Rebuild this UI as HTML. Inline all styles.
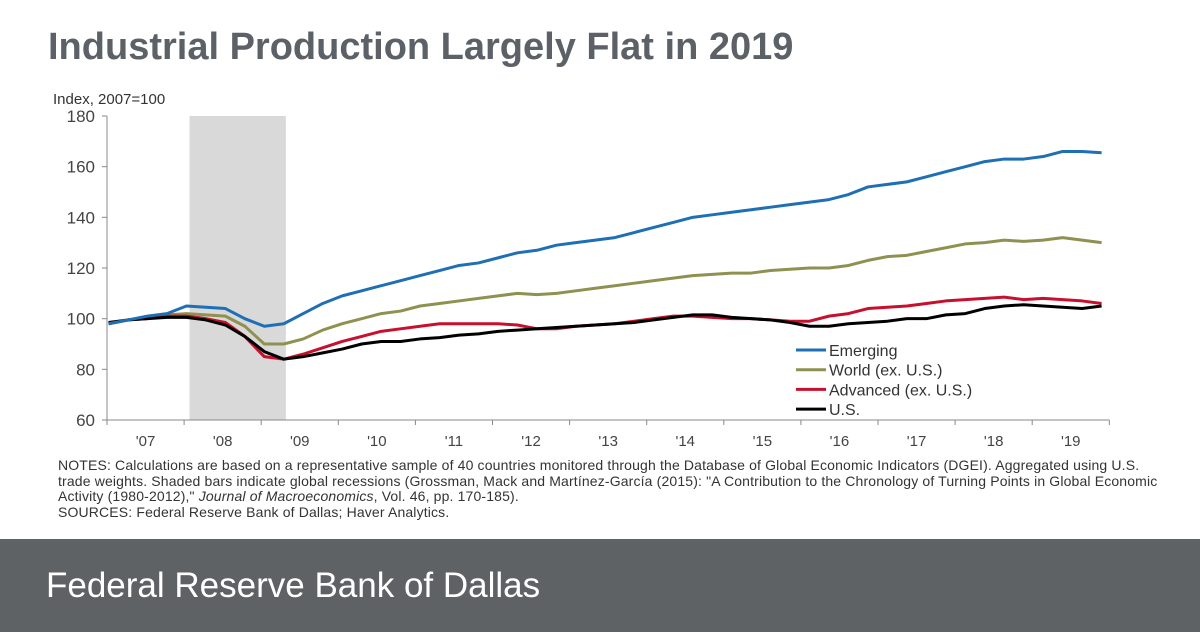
<!DOCTYPE html>
<html><head><meta charset="utf-8"><style>
body{margin:0;width:1200px;height:632px;background:#fff;position:relative;overflow:hidden;font-family:"Liberation Sans",Arial,sans-serif}
#title{position:absolute;left:48px;top:26px;font-size:38px;font-weight:bold;color:#5b6167;margin:0}
#notes{position:absolute;left:58px;top:458px;font-size:14px;letter-spacing:0.15px;line-height:15.5px;color:#333;white-space:nowrap}
#footer{position:absolute;left:0;top:539px;width:1200px;height:93px;background:#5f6264}
#footer span{position:absolute;left:46px;top:27px;font-size:35px;color:#fff;font-weight:300}
</style></head><body>
<h1 id="title">Industrial Production Largely Flat in 2019</h1>
<svg id="chart" width="1200" height="460" style="position:absolute;left:0;top:0"></svg>
<div id="notes">NOTES: Calculations are based on a representative sample of 40 countries monitored through the Database of Global Economic Indicators (DGEI). Aggregated using U.S.<br>trade weights. Shaded bars indicate global recessions (Grossman, Mack and Martínez-García (2015): "A Contribution to the Chronology of Turning Points in Global Economic<br>Activity (1980-2012)," <i>Journal of Macroeconomics</i>, Vol. 46, pp. 170-185).<br>SOURCES: Federal Reserve Bank of Dallas; Haver Analytics.</div>
<div id="footer"><span>Federal Reserve Bank of Dallas</span></div>
<script>
const yTicks=[60,80,100,120,140,160,180];
const yearLabels=["'07","'08","'09","'10","'11","'12","'13","'14","'15","'16","'17","'18","'19"];
const recession=[2008.07,2009.32];
const emerging=[98,99.5,101,102,105,104.5,104,100,97,98,102,106,109,111,113,115,117,119,121,122,124,126,127,129,130,131,132,134,136,138,140,141,142,143,144,145,146,147,149,152,153,154,156,158,160,162,163,163,164,166,166,165.5];
const world=[98,99.5,100.5,101.5,102,101.5,101,97,90,90,92,95.5,98,100,102,103,105,106,107,108,109,110,109.5,110,111,112,113,114,115,116,117,117.5,118,118,119,119.5,120,120,121,123,124.5,125,126.5,128,129.5,130,131,130.5,131,132,131,130];
const advanced=[98,99.5,100,101,101,100,98.5,93,85,84,86,88.5,91,93,95,96,97,98,98,98,98,97.5,96,96,97,97.5,98,99,100,101,101,100.5,100,100,99.5,99,99,101,102,104,104.5,105,106,107,107.5,108,108.5,107.5,108,107.5,107,106];
const us=[98.5,99.5,100,100.5,100.5,99.5,97.5,93,87,84,85,86.5,88,90,91,91,92,92.5,93.5,94,95,95.5,96,96.5,97,97.5,98,98.5,99.5,100.5,101.5,101.5,100.5,100,99.5,98.5,97,97,98,98.5,99,100,100,101.5,102,104,105,105.5,105,104.5,104,105];
const NS="http://www.w3.org/2000/svg";
const svg=document.getElementById('chart');
const X0=107,PX=77.1,Y0=420,YS=304/120;
const xs=t=>X0+(t-2007)*PX;
const ys=v=>Y0-(v-60)*YS;
const tOf=i=>2007.02+i*(12.88/(emerging.length-1));
function mk(tag,attrs){const e=document.createElementNS(NS,tag);for(const k in attrs)e.setAttribute(k,attrs[k]);svg.appendChild(e);return e;}
let r=mk('rect',{x:xs(recession[0]),y:ys(180),width:xs(recession[1])-xs(recession[0]),height:ys(60)-ys(180),fill:'#d9d9d9'});


let ax=mk('line',{x1:X0,y1:ys(180),x2:X0,y2:Y0,stroke:'#888','stroke-width':1});


let bx=mk('line',{x1:X0,y1:Y0,x2:xs(2020),y2:Y0,stroke:'#888','stroke-width':1});


yTicks.forEach(v=>{
 mk('line',{x1:X0-5,y1:ys(v),x2:X0,y2:ys(v),stroke:'#888'});
 let t=mk('text',{x:X0-12,y:ys(v)+6,'text-anchor':'end','font-size':17,fill:'#444'});t.textContent=v;
 
 
});
yearLabels.forEach((l,i)=>{
 mk('line',{x1:xs(2007+i),y1:Y0,x2:xs(2007+i),y2:Y0+5,stroke:'#888'});
 let t=mk('text',{x:xs(2007.5+i),y:Y0+26,'text-anchor':'middle','font-size':15,fill:'#444'});t.textContent=l;
 
 
});
mk('line',{x1:xs(2020),y1:Y0,x2:xs(2020),y2:Y0+5,stroke:'#888'});
let yt=mk('text',{x:53,y:104,'font-size':15,fill:'#333'});yt.textContent='Index,  2007=100';


const series=[[world,'#8f9150','world-line'],[advanced,'#c8102e','advanced-line'],[us,'#000','us-line'],[emerging,'#1f6fb5','emerging-line']];
series.forEach(([d,c,n])=>{
 let p=mk('polyline',{points:d.map((v,i)=>xs(tOf(i))+','+ys(v)).join(' '),fill:'none',stroke:c,'stroke-width':3,'stroke-linejoin':'round'});
 
 
});
const legend=[['Emerging','#1f6fb5'],['World (ex. U.S.)','#8f9150'],['Advanced (ex. U.S.)','#c8102e'],['U.S.','#000']];
legend.forEach(([l,c],i)=>{
 let y=350+i*19.7;
 let ln=mk('line',{x1:796,y1:y,x2:826,y2:y,stroke:c,'stroke-width':3});
 
 
 let t=mk('text',{x:829,y:y+6,'font-size':16,fill:'#333'});t.textContent=l;
 
 
});
</script>
</body></html>
